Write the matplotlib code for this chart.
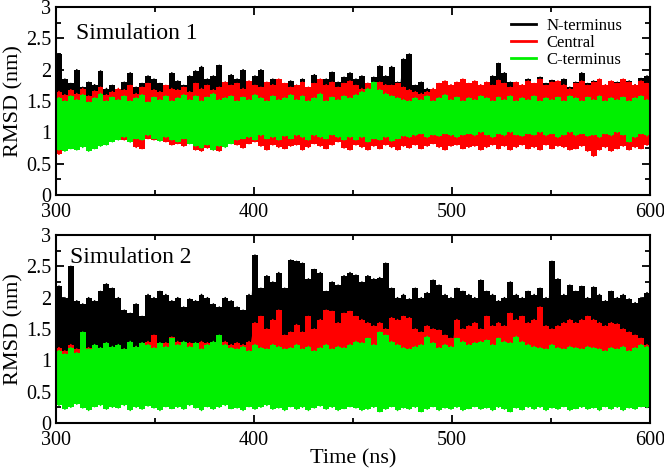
import matplotlib
matplotlib.use('Agg')
import matplotlib.pyplot as plt
from matplotlib.ticker import MultipleLocator
import numpy as np

plt.rcParams['font.family'] = ['Liberation Serif', 'DejaVu Serif']

# time windows (ns): one upper and one lower reading per 3 ns window
t_start = 300
t_step = 3

labels = ['N-terminus', 'Central', 'C-terminus']
colors = ['black', 'red', '#00f000']

# Simulation 1, RMSD x100 (nm)
sim1_nterm_hi = [225, 185, 178, 200, 172, 180, 176, 198, 170, 175,
                 168, 180, 195, 172, 178, 190, 185, 178, 172, 195,
                 182, 175, 190, 198, 205, 185, 190, 207, 180, 192,
                 185, 200, 178, 190, 200, 176, 185, 178, 172, 182,
                 175, 185, 170, 192, 178, 185, 196, 180, 188, 195,
                 185, 190, 178, 188, 206, 190, 205, 180, 217, 225,
                 175, 180, 170, 168, 167, 170, 172, 175, 170, 172,
                 175, 170, 172, 190, 210, 195, 180, 175, 172, 185,
                 175, 188, 178, 183, 175, 185, 172, 180, 195, 178,
                 182, 176, 175, 178, 180, 178, 182, 176, 186, 190]
sim1_nterm_lo = [110, 105, 112, 108, 100, 115, 106, 110, 104, 112,
                 108, 102, 110, 106, 112, 100, 108, 104, 110, 106,
                 104, 110, 102, 108, 112, 106, 100, 108, 104, 110,
                 106, 100, 104, 98, 108, 102, 110, 104, 106, 100,
                 108, 104, 110, 102, 106, 112, 104, 108, 100, 106,
                 110, 104, 108, 100, 106, 110, 102, 108, 104, 106,
                 108, 112, 106, 110, 104, 108, 112, 106, 110, 104,
                 110, 106, 108, 112, 104, 110, 106, 108, 112, 106,
                 104, 110, 106, 108, 112, 104, 110, 106, 108, 104,
                 110, 106, 108, 104, 110, 106, 112, 108, 104, 110]
sim1_central_hi = [165, 160, 168, 162, 170, 158, 166, 172, 160, 165,
                   170, 168, 175, 162, 172, 178, 168, 165, 175, 170,
                   168, 172, 165, 178, 170, 175, 168, 172, 180, 175,
                   178, 170, 182, 175, 172, 180, 176, 185, 178, 172,
                   175, 180, 172, 178, 185, 176, 180, 172, 178, 182,
                   175, 170, 178, 172, 180, 176, 175, 178, 172, 168,
                   165, 162, 165, 170, 178, 182, 176, 180, 185, 178,
                   182, 176, 180, 175, 183, 178, 172, 180, 176, 182,
                   178, 185, 175, 180, 182, 176, 170, 178, 182, 175,
                   180, 185, 176, 182, 178, 185, 180, 176, 182, 178]
sim1_central_lo = [65, 90, 85, 95, 92, 88, 95, 90, 85, 92,
                   90, 88, 85, 76, 74, 90, 88, 92, 85, 80,
                   82, 78, 85, 72, 70, 75, 72, 70, 78, 85,
                   80, 75, 82, 85, 78, 72, 80, 76, 74, 78,
                   80, 72, 76, 82, 78, 74, 80, 85, 75, 72,
                   80, 76, 72, 78, 74, 80, 76, 72, 78, 75,
                   80, 74, 78, 82, 76, 72, 78, 80, 74, 76,
                   78, 72, 76, 80, 74, 78, 72, 76, 80, 74,
                   76, 72, 80, 74, 78, 76, 72, 74, 78, 70,
                   62, 72, 76, 70, 74, 78, 72, 76, 74, 80]
sim1_cterm_hi = [155, 150, 158, 152, 160, 148, 155, 162, 150, 156,
                 152, 158, 150, 155, 160, 148, 156, 152, 158, 150,
                 155, 160, 152, 158, 150, 156, 162, 152, 155, 158,
                 150, 156, 152, 160, 155, 150, 158, 152, 155, 160,
                 152, 158, 150, 155, 162, 150, 156, 152, 158, 155,
                 160, 165, 170, 180, 168, 162, 158, 155, 152, 150,
                 155, 152, 158, 150, 155, 160, 152, 156, 150, 155,
                 152, 158, 155, 150, 156, 152, 158, 150, 155, 152,
                 158, 150, 155, 152, 156, 150, 158, 155, 150, 156,
                 152, 158, 150, 155, 152, 156, 150, 155, 158, 152]
sim1_cterm_lo = [72, 70, 74, 72, 76, 70, 74, 78, 80, 85,
                 88, 92, 85, 90, 88, 95, 90, 86, 92, 88,
                 85, 90, 82, 78, 75, 80, 72, 78, 76, 82,
                 88, 90, 92, 88, 95, 90, 92, 88, 94, 90,
                 95, 92, 88, 95, 92, 90, 96, 92, 88, 92,
                 88, 92, 85, 90, 88, 92, 86, 90, 94, 92,
                 95, 98, 92, 96, 94, 98, 95, 92, 96, 98,
                 95, 100, 96, 92, 98, 95, 100, 96, 94, 98,
                 96, 100, 95, 98, 92, 96, 100, 95, 98, 94,
                 96, 92, 98, 95, 100, 96, 85, 92, 98, 95]

# Simulation 2, RMSD x100 (nm)
sim2_nterm_hi = [218, 200, 250, 195, 190, 200, 195, 210, 222, 215,
                 200, 180, 175, 190, 170, 205, 200, 210, 205, 195,
                 200, 185, 198, 195, 205, 200, 190, 185, 200, 195,
                 185, 180, 205, 268, 215, 235, 225, 240, 215, 260,
                 258, 255, 230, 245, 240, 210, 225, 220, 235, 240,
                 236, 225, 235, 230, 232, 255, 215, 200, 205, 198,
                 215, 200, 208, 228, 220, 205, 200, 215, 210, 205,
                 200, 228, 210, 205, 195, 200, 225, 205, 200, 210,
                 205, 215, 200, 258, 230, 205, 220, 210, 218, 200,
                 217, 205, 195, 210, 200, 205, 198, 192, 200, 208]
sim2_nterm_lo = [112, 108, 115, 110, 118, 106, 112, 108, 115, 110,
                 108, 114, 110, 106, 112, 116, 108, 112, 110, 114,
                 110, 106, 112, 108, 115, 110, 106, 112, 108, 114,
                 112, 108, 110, 115, 106, 112, 110, 108, 114, 110,
                 108, 112, 106, 110, 115, 108, 112, 110, 106, 112,
                 110, 114, 108, 112, 106, 110, 115, 108, 112, 110,
                 106, 112, 110, 115, 108, 112, 106, 110, 114, 108,
                 112, 108, 115, 110, 106, 112, 108, 114, 110, 106,
                 110, 114, 108, 112, 106, 110, 115, 108, 112, 110,
                 108, 112, 106, 110, 114, 108, 112, 106, 110, 112]
sim2_central_hi = [120, 115, 125, 118, 112, 120, 118, 115, 122, 118,
                   120, 118, 125, 122, 120, 130, 140, 125, 128, 137,
                   130, 125, 128, 122, 130, 128, 125, 137, 130, 125,
                   128, 125, 130, 160, 170, 150, 165, 180, 140, 145,
                   157, 145, 170, 150, 165, 180, 178, 160, 175, 178,
                   170, 165, 160, 155, 160, 150, 168, 165, 170, 168,
                   150, 145, 155, 150, 148, 140, 135, 165, 150, 155,
                   160, 150, 170, 155, 160, 155, 175, 165, 170, 160,
                   165, 185, 155, 150, 155, 160, 165, 160, 165, 170,
                   165, 160, 155, 160, 158, 150, 145, 140, 135, 125]
sim2_central_lo = [105, 100, 108, 98, 105, 102, 100, 75, 105, 100,
                   102, 98, 105, 100, 102, 98, 105, 100, 104, 98,
                   102, 100, 98, 105, 100, 102, 98, 100, 105, 102,
                   100, 98, 102, 100, 105, 98, 102, 85, 100, 105,
                   98, 102, 100, 98, 105, 100, 102, 98, 100, 104,
                   100, 98, 102, 100, 105, 98, 100, 102, 98, 100,
                   102, 98, 100, 105, 98, 102, 100, 98, 95, 102,
                   100, 98, 105, 100, 102, 98, 100, 104, 98, 100,
                   102, 98, 100, 105, 98, 102, 100, 98, 102, 100,
                   98, 102, 100, 98, 105, 100, 102, 98, 65, 100]
sim2_cterm_hi = [115, 110, 120, 112, 145, 118, 125, 120, 128, 122,
                 125, 118, 130, 122, 128, 125, 120, 128, 122, 135,
                 125, 130, 122, 128, 118, 125, 130, 140, 125, 120,
                 118, 122, 115, 125, 120, 118, 125, 122, 118, 120,
                 125, 118, 122, 115, 120, 125, 118, 122, 120, 125,
                 130, 128, 135, 125, 145, 140, 130, 125, 120, 118,
                 122, 125, 138, 128, 120, 125, 122, 135, 130, 125,
                 128, 130, 132, 125, 135, 130, 128, 138, 130, 125,
                 122, 120, 118, 125, 120, 118, 122, 120, 118, 122,
                 120, 118, 115, 120, 118, 122, 115, 120, 125, 122]
sim2_cterm_lo = [28, 22, 25, 30, 24, 20, 26, 28, 22, 25,
                 24, 28, 20, 25, 22, 27, 24, 20, 26, 23,
                 25, 22, 28, 24, 20, 26, 22, 25, 28, 23,
                 24, 20, 26, 22, 25, 28, 22, 24, 20, 26,
                 22, 25, 20, 24, 27, 22, 25, 20, 23, 26,
                 24, 20, 22, 25, 18, 22, 26, 20, 24, 22,
                 25, 18, 22, 26, 20, 24, 22, 25, 20, 23,
                 26, 22, 24, 20, 25, 22, 18, 24, 21, 25,
                 22, 25, 20, 24, 22, 26, 20, 23, 25, 22,
                 24, 20, 26, 22, 25, 20, 24, 22, 26, 25]

sim1 = [(sim1_nterm_hi, sim1_nterm_lo), (sim1_central_hi, sim1_central_lo),
        (sim1_cterm_hi, sim1_cterm_lo)]
sim2 = [(sim2_nterm_hi, sim2_nterm_lo), (sim2_central_hi, sim2_central_lo),
        (sim2_cterm_hi, sim2_cterm_lo)]


def draw(ax, hi, lo, c, lab, z):
    # each 3 ns window filled between its readings, plus the trace itself
    n = len(hi)
    hi = np.asarray(hi) / 100.0
    lo = np.asarray(lo) / 100.0
    edges = t_start + t_step * np.arange(n + 1)
    xs = np.repeat(edges, 2)[1:-1]
    ax.fill_between(xs, np.repeat(lo, 2), np.repeat(hi, 2), color=c, lw=0,
                    zorder=z)
    mid = edges[:-1] + t_step / 2
    x = np.column_stack((mid, mid)).ravel()
    y = np.column_stack((hi, lo)).ravel()
    ax.plot(x, y, color=c, lw=1.2, label=lab, zorder=z + 0.5)


fig = plt.figure(figsize=(6.64, 4.71), dpi=100)
ax1 = fig.add_axes([0.0843, 0.586, 0.8946, 0.399])
ax2 = fig.add_axes([0.0843, 0.102, 0.8946, 0.399])

for ax, sim, title, tx, ty in [(ax1, sim1, 'Simulation 1', 0.034, 0.83),
                               (ax2, sim2, 'Simulation 2', 0.024, 0.85)]:
    for k, ((hi, lo), c, lab) in enumerate(zip(sim, colors, labels)):
        draw(ax, hi, lo, c, lab, 2 + k)
    ax.set_xlim(300, 600)
    ax.set_ylim(0, 3)
    ax.xaxis.set_major_locator(MultipleLocator(100))
    ax.xaxis.set_minor_locator(MultipleLocator(50))
    ax.yaxis.set_minor_locator(MultipleLocator(0.25))
    ax.set_yticks([0, 0.5, 1, 1.5, 2, 2.5, 3])
    ax.set_yticklabels(['0', '0.5', '1', '1.5', '2', '2.5', '3'])
    ax.tick_params(which='both', direction='in', top=True, right=True,
                   labelsize=14.5, width=1.3)
    ax.tick_params(which='major', length=6)
    ax.tick_params(which='minor', length=3.5)
    ax.tick_params(axis='x', pad=5.5)
    for s in ax.spines.values():
        s.set_linewidth(1.5)
        s.set_zorder(10)
    ax.set_ylabel('RMSD (nm)', fontsize=16, labelpad=2)
    ax.text(tx, ty, title, transform=ax.transAxes, fontsize=17, zorder=11)

ax2.set_xlabel('Time (ns)', fontsize=16, labelpad=0)

leg = ax1.legend(loc='upper right', bbox_to_anchor=(0.978, 1.02), frameon=False,
                 fontsize=12, handlelength=1.5, handletextpad=0.6,
                 labelspacing=0.05)
leg.set_zorder(12)
for h in leg.get_lines():
    h.set_linewidth(2)

fig.savefig('out.png', dpi=100)
